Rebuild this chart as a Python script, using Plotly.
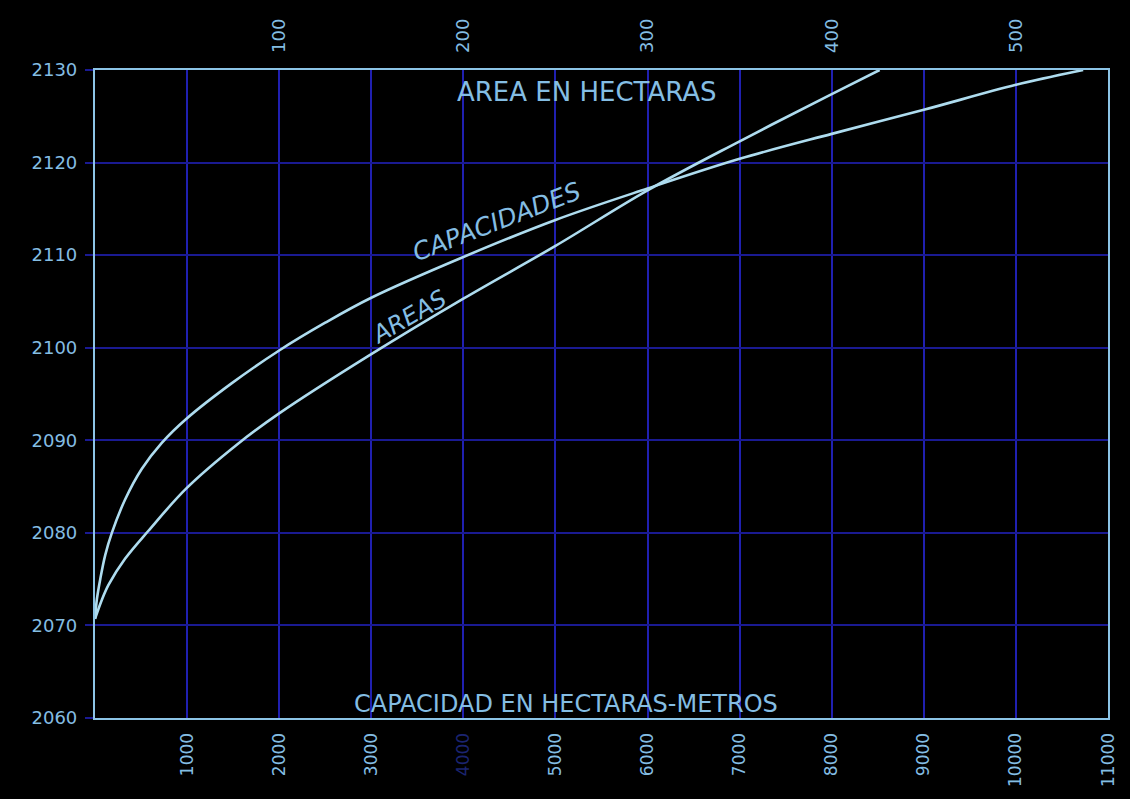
import plotly.graph_objects as go

# Curva de capacidades (hectáreas-metros) vs. elevación
cap_hm = [0, 20, 57, 111, 183, 327, 507, 723, 990, 1490, 2000, 2500, 3000,
          4000, 5000, 6000, 7000, 8000, 9000, 10000, 10730]
cap_elev = [2070.7, 2072.8, 2075.0, 2077.6, 2080.0, 2083.6, 2086.9, 2089.7,
            2092.3, 2096.2, 2099.7, 2102.7, 2105.4, 2109.8, 2113.8, 2117.2,
            2120.4, 2123.1, 2125.7, 2128.4, 2130.0]

# Curva de áreas (hectáreas) vs. elevación
area_ha = [0, 3.8, 7.4, 16.3, 28.9, 49.6, 77.5, 100, 150, 200, 250, 300, 350,
           400, 426]
area_elev = [2070.7, 2072.8, 2074.4, 2077.2, 2080.2, 2084.8, 2089.6, 2092.9,
             2099.3, 2105.3, 2111.0, 2117.0, 2122.3, 2127.4, 2130.0]

elev_ticks = [2060, 2070, 2080, 2090, 2100, 2110, 2120, 2130]
cap_ticks = [1000, 2000, 3000, 4000, 5000, 6000, 7000, 8000, 9000, 10000, 11000]
cap_labels = ["1000", "2000", "3000", "4000", "5000", "6000", "7000", "8000",
              "9000", "10000", "11000"]
area_ticks = [100, 200, 300, 400, 500]
area_labels = ["100", "200", "300", "400", "500"]

LINE = "#aedcef"
TEXT = "#84bde3"
GRID_V = "#2020b0"
GRID_H = "#1a1a92"
FRAME = "#8cc4e6"
FONT = "DejaVu Sans"

# dim the faded 4000 label as in the original print
cap_labels_styled = [
    ('<span style="color:#1b2470">%s</span>' % t) if t == "4000" else t
    for t in cap_labels
]

fig = go.Figure()
fig.add_trace(go.Scatter(
    x=cap_hm, y=cap_elev, mode="lines", name="Capacidades",
    line=dict(color=LINE, width=2.6, shape="spline", smoothing=1.0),
    xaxis="x", yaxis="y", hoverinfo="skip"))
fig.add_trace(go.Scatter(
    x=area_ha, y=area_elev, mode="lines", name="Areas",
    line=dict(color=LINE, width=2.6, shape="spline", smoothing=1.0),
    xaxis="x2", yaxis="y", hoverinfo="skip"))

fig.update_layout(
    width=1130, height=799,
    paper_bgcolor="black", plot_bgcolor="black",
    margin=dict(l=95, r=15, t=70, b=81),
    showlegend=False,
    font=dict(family=FONT, color=TEXT),
    xaxis=dict(
        range=[0, 11000], tickvals=cap_ticks, ticktext=cap_labels_styled,
        tickangle=-90, showgrid=True, gridcolor=GRID_V, gridwidth=1.5,
        zeroline=False, showline=True, linecolor=FRAME, linewidth=2.2,
        mirror=True, ticks="", ticklabelstandoff=6,
        tickfont=dict(family=FONT, size=17, color=TEXT)),
    xaxis2=dict(
        range=[0, 550], overlaying="x", side="top", anchor="y",
        tickvals=area_ticks, ticktext=area_labels, tickangle=-90,
        showgrid=False, zeroline=False, showline=False, ticks="",
        ticklabelstandoff=16,
        tickfont=dict(family=FONT, size=18, color=TEXT)),
    yaxis=dict(
        range=[2060, 2130], tickvals=elev_ticks,
        ticktext=[str(v) for v in elev_ticks],
        showgrid=True, gridcolor=GRID_H, gridwidth=1.5, zeroline=False,
        showline=True, linecolor=FRAME, linewidth=2.2, mirror=True,
        ticks="outside", ticklen=8, tickcolor=GRID_H, tickwidth=1.5,
        ticklabelstandoff=4,
        tickfont=dict(family=FONT, size=18, color=TEXT)),
)

fig.add_annotation(x=5338, y=2127.6, xref="x", yref="y", text="AREA EN HECTARAS",
                   showarrow=False, font=dict(family=FONT, size=26, color=TEXT))
fig.add_annotation(x=5112, y=2061.5, xref="x", yref="y",
                   text="CAPACIDAD EN HECTARAS-METROS",
                   showarrow=False, font=dict(family=FONT, size=24, color=TEXT))
fig.add_annotation(x=4368, y=2113.6, xref="x", yref="y", text="CAPACIDADES",
                   textangle=-21, showarrow=False,
                   font=dict(family=FONT, size=25, color=TEXT, style="italic"))
fig.add_annotation(x=3408, y=2103.3, xref="x", yref="y", text="AREAS",
                   textangle=-30, showarrow=False,
                   font=dict(family=FONT, size=24, color=TEXT, style="italic"))

fig.write_html("out.html", config={"displayModeBar": False},
               post_script="document.body.style.margin='0';")
